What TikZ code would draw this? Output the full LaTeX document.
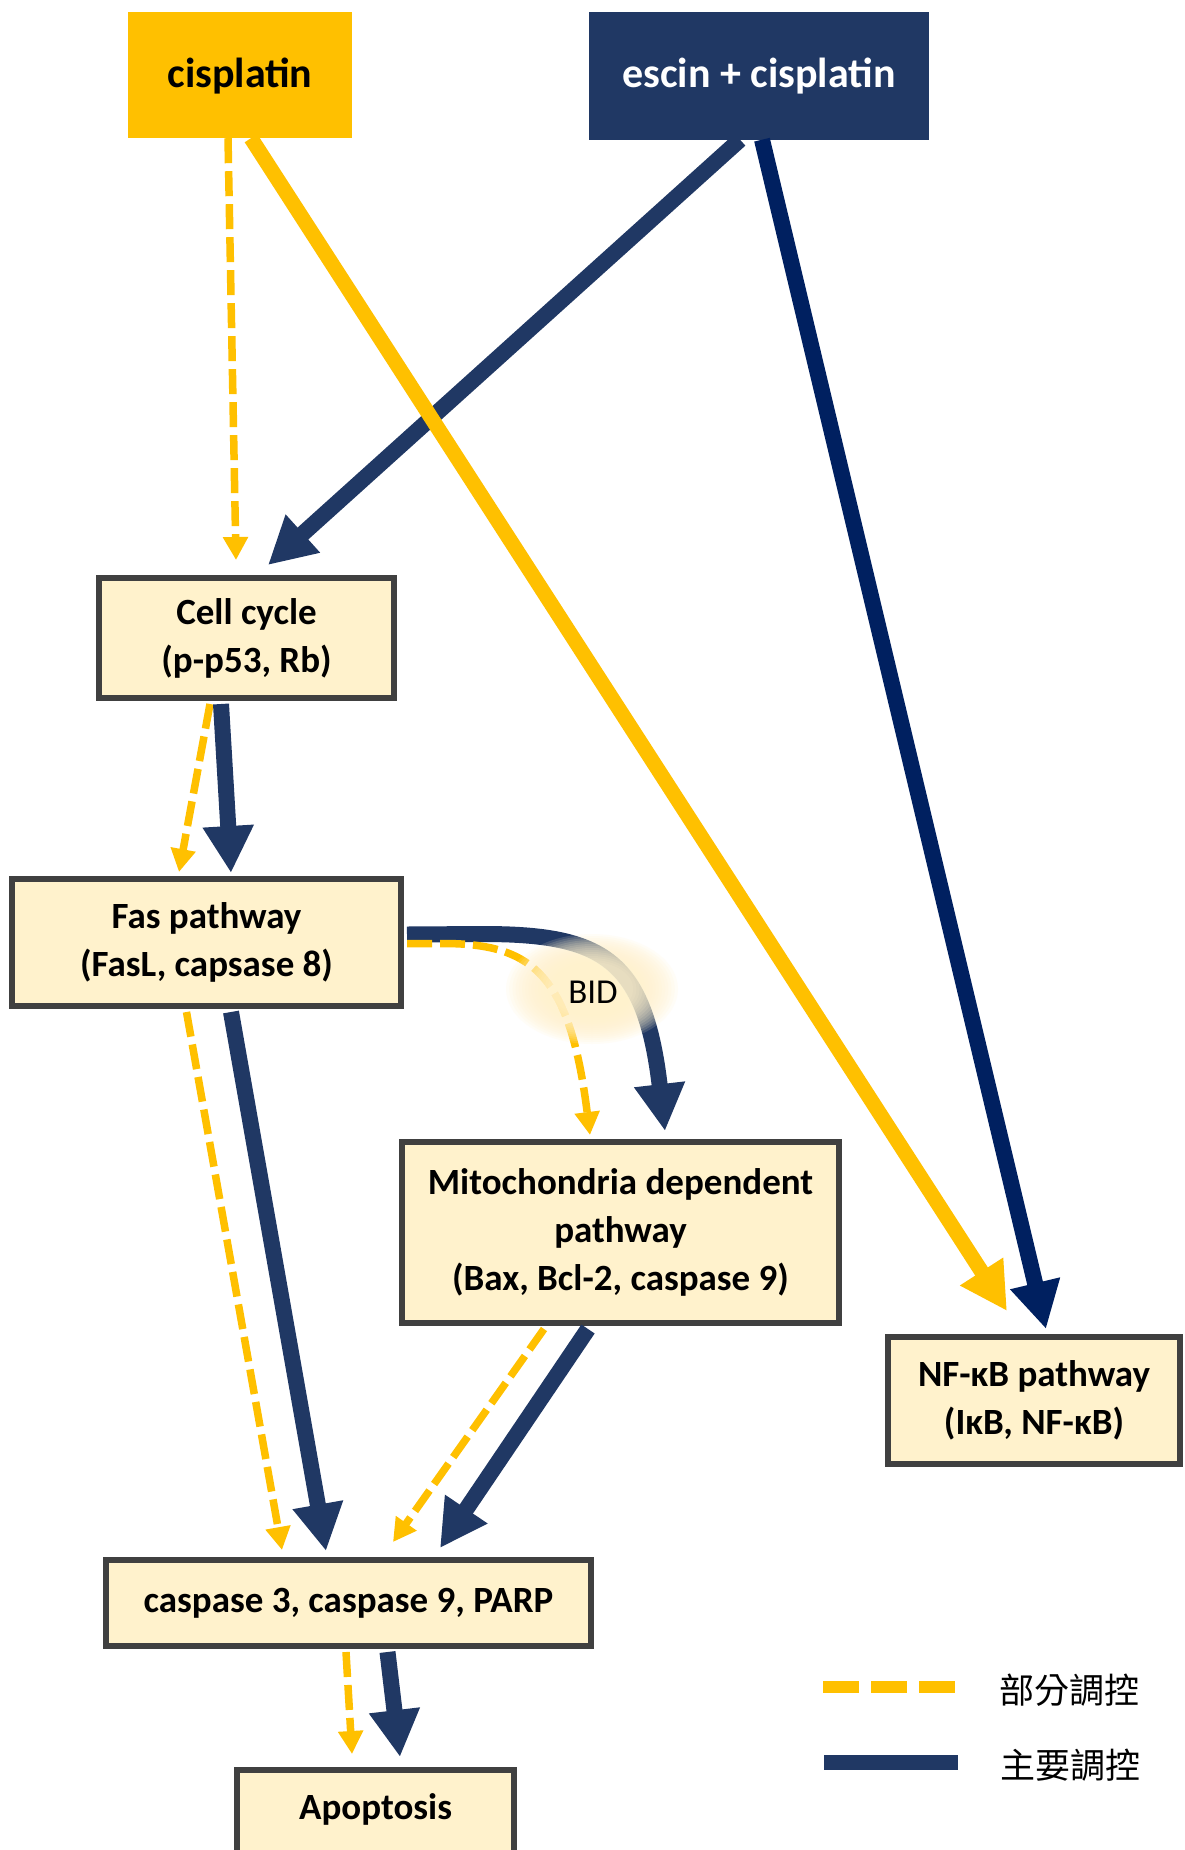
\documentclass[tikz,border=0pt]{standalone}
\usepackage{fontspec}
\setmainfont{Carlito}
\newfontfamily\cjkfont{Noto Sans CJK TC}
\usetikzlibrary{arrows.meta,calc}

\definecolor{navy}{HTML}{203864}
\definecolor{deepnavy}{HTML}{002060}
\definecolor{gold}{HTML}{FFC000}
\definecolor{cream}{HTML}{FFF2CC}
\definecolor{bordergray}{HTML}{404040}

\begin{document}
\begin{tikzpicture}[x=1pt,y=-1pt,
  box/.style={draw=bordergray, line width=6pt, fill=cream, inner sep=0pt, align=center,
    font=\fontsize{37}{48}\selectfont\bfseries},
  titlebox/.style={inner sep=0pt, text depth=5pt, font=\fontsize{42}{50}\selectfont\bfseries},
  major/.style={draw=navy, line width=16pt, -{Triangle[length=47pt,width=48pt]}},
  goldmain/.style={draw=gold, line width=15pt, -{Triangle[length=47pt,width=48pt]}},
  partial/.style={draw=gold, line width=7.5pt, dash pattern=on 25pt off 8pt, -{Triangle[length=23pt,width=24pt]}},
  legtext/.style={inner sep=0pt, font=\cjkfont\fontsize{35}{40}\selectfont}
]
\useasboundingbox (0,0) rectangle (1184,1850);
\fill[white] (0,0) rectangle (1184,1850);
\clip (0,0) rectangle (1184,1850);

% top boxes
\node[titlebox, fill=gold, minimum width=224pt, minimum height=126pt] (cis) at (240,75) {cisplatin};
\node[titlebox, fill=navy, text=white, minimum width=340pt, minimum height=128pt] (esc) at (759,75.5) {escin + cisplatin};

% pathway boxes
\node[box, minimum width=295pt, minimum height=120pt] (cell) at (246.5,638) {Cell cycle\\(p-p53, Rb)};
\node[box, minimum width=389pt, minimum height=127pt] (fas) at (206.5,942.5) {Fas pathway\\(FasL, capsase 8)};
\node[box, minimum width=437pt, minimum height=181pt] (mito) at (620.5,1232.5) {Mitochondria dependent\\pathway\\(Bax, Bcl-2, caspase 9)};
\node[box, minimum width=292pt, minimum height=127pt] (nfkb) at (1034,1400.5) {NF-κB pathway\\(IκB, NF-κB)};
\node[box, minimum width=485pt, minimum height=86pt] (casp) at (348.5,1603) {caspase 3, caspase 9, PARP};
\node[box, anchor=north, minimum width=277pt, text height=49pt, text depth=70pt] (apop) at (375.5,1767) {Apoptosis};

% cisplatin -> cell cycle (partial)
\draw[partial] ($(cis.south)+(-12,0)$) -- ($(cell.north)+(-10.5,-15)$);
% escin + cisplatin -> cell cycle (major)
\draw[major] ($(esc.south)+(-19,0)$) -- ($(cell.north)+(21.5,-10)$);
% escin + cisplatin -> NF-kB
\draw[major, draw=deepnavy] ($(esc.south)+(3,0)$) -- ($(nfkb.north)+(12,-5)$);
% cisplatin -> NF-kB
\draw[goldmain] ($(cis.south)+(11,0)$) -- ($(nfkb.north)+(-27,-23)$);

% cell cycle -> Fas
\draw[partial] ($(cell.south)+(-36.5,3)$) -- ($(fas.north)+(-27.5,-4)$);
\draw[major] ($(cell.south)+(-25.5,3)$) -- ($(fas.north)+(24.5,-3)$);

% Fas -> mitochondria (via BID)
\draw[major] ($(fas.east)+(3,-8)$) -- ($(fas.east)+(79,-8.5)$)
  .. controls +(120,0) and +(-20,-172) .. ($(mito.north)+(44.5,-8)$);
\draw[partial] ($(fas.east)+(3,1)$) -- ($(fas.east)+(39,1)$)
  .. controls +(90,0) and +(-20,-160) .. ($(mito.north)+(-30.5,-4)$);

% Fas -> caspase
\draw[partial] ($(fas.south)+(-20,3)$) -- ($(casp.north)+(-66.5,-7)$);
\draw[major] ($(fas.south)+(24.5,3)$) -- ($(casp.north)+(-22.5,-6)$);

% mitochondria -> caspase
\draw[partial] ($(mito.south)+(-76.5,3)$) -- ($(casp.north)+(44.5,-15)$);
\draw[major] ($(mito.south)+(-32.5,3)$) -- ($(casp.north)+(91.5,-9)$);

% caspase -> apoptosis
\draw[partial] ($(casp.south)+(-2.5,3)$) -- ($(apop.north)+(-23.5,-13)$);
\draw[major] ($(casp.south)+(39,3)$) -- ($(apop.north)+(24.5,-10)$);

% BID glow (stack of translucent ellipses) and label
\foreach \k [evaluate=\k as \rx using 86-3.2*\k, evaluate=\k as \ry using 55-2*\k] in {0,...,14}
  \fill[cream, opacity=0.145] (592,989) ellipse [x radius=\rx pt, y radius=\ry pt];
\node[inner sep=0pt, font=\fontsize{35}{40}\selectfont] (bid) at (593,992) {BID};

% legend
\coordinate (lp1) at (823,1687);
\coordinate (lp2) at (955,1687);
\coordinate (lm1) at (824,1762);
\coordinate (lm2) at (958,1762);
\draw[draw=gold, line width=12pt, dash pattern=on 36pt off 12pt] (lp1) -- (lp2);
\draw[draw=navy, line width=15pt] (lm1) -- (lm2);
\node[legtext] (legp) at (1069,1690) {部分調控};
\node[legtext] (legm) at (1070,1765) {主要調控};
\end{tikzpicture}
\end{document}
